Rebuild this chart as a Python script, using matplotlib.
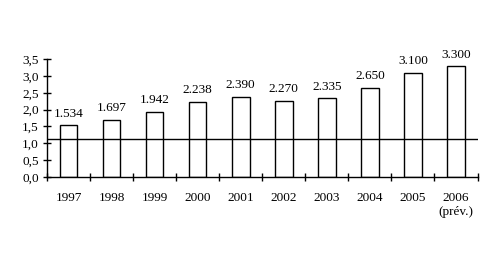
import matplotlib
matplotlib.use("Agg")
import matplotlib.pyplot as plt
import numpy as np

years = ["1997", "1998", "1999", "2000", "2001", "2002", "2003", "2004", "2005", "2006\n(prév.)"]
values = [1.534, 1.697, 1.942, 2.238, 2.390, 2.270, 2.335, 2.650, 3.100, 3.300]
labels = ["1.534", "1.697", "1.942", "2.238", "2.390", "2.270", "2.335", "2.650", "3.100", "3.300"]
ref_line = 1.14
yticks = [0.0, 0.5, 1.0, 1.5, 2.0, 2.5, 3.0, 3.5]

plt.rcParams['font.family'] = ['Liberation Serif', 'DejaVu Serif']
plt.rcParams['font.size'] = 9

fig = plt.figure(figsize=(4.87, 2.65), dpi=100)
ax = fig.add_axes([0.0965, 0.333, 0.884, 0.443])

x = np.arange(len(values))
bars = ax.bar(x, values, width=0.41, facecolor="white", edgecolor="black", linewidth=1.0, zorder=2)
for xi, v, lab in zip(x, values, labels):
    ax.annotate(lab, (xi, v), xytext=(0, 4), textcoords="offset points",
                ha="center", va="bottom", fontsize=9.5)

ax.axhline(ref_line, color="black", linewidth=1.0, zorder=3)

ax.set_xlim(-0.5, len(values) - 0.5)
ax.set_ylim(0, 3.5)
ax.set_yticks(yticks)
ax.set_yticklabels([("%.1f" % t).replace(".", ",") for t in yticks])

ax.set_xticks(np.arange(len(values) + 1) - 0.5)
ax.set_xticklabels([])
ax.set_xticks(x, minor=True)
ax.set_xticklabels(years, minor=True)
ax.tick_params(axis="x", which="minor", length=0, pad=11, labelsize=9.5)
ax.tick_params(axis="x", which="major", direction="inout", length=6, width=1)
ax.tick_params(axis="y", direction="inout", length=6, width=1, pad=3, labelsize=9.5)

for s in ["top", "right"]:
    ax.spines[s].set_visible(False)
for s in ["left", "bottom"]:
    ax.spines[s].set_linewidth(1.0)

fig.savefig("out.png", dpi=100)
